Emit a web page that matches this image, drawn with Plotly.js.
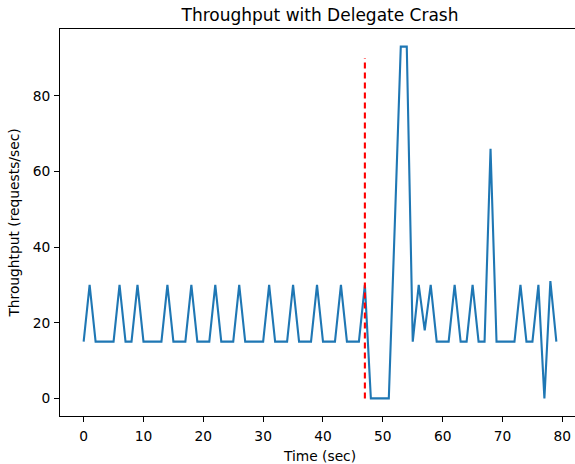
<!DOCTYPE html>
<html>
<head>
<meta charset="utf-8">
<script src="https://cdn.plot.ly/plotly-3.0.1.min.js"></script>
<style>
html, body { margin: 0; padding: 0; overflow: hidden; background: #fff; }
#chart { width: 580px; height: 464px; }
</style>
</head>
<body>
<div id="chart"></div>
<script>
const timeSec = [0,1,2,3,4,5,6,7,8,9,10,11,12,13,14,15,16,17,18,19,20,21,22,23,24,25,26,27,28,29,30,31,32,33,34,35,36,37,38,39,40,41,42,43,44,45,46,47,48,49,50,51,52,53,54,55,56,57,58,59,60,61,62,63,64,65,66,67,68,69,70,71,72,73,74,75,76,77,78,79];
const throughput = [15,30,15,15,15,15,30,15,15,30,15,15,15,15,30,15,15,15,30,15,15,15,30,15,15,15,30,15,15,15,15,30,15,15,15,30,15,15,15,30,15,15,15,30,15,15,15,30,0,0,0,0,46,93,93,15,30,18,30,15,15,15,30,15,15,30,15,15,66,15,15,15,15,30,15,15,30,0,31,15];
const crashX = [47, 47];
const crashY = [0, 90];
const xTicks = [0,10,20,30,40,50,60,70,80];
const yTicks = [0,20,40,60,80];

const font = {family: 'DejaVu Sans, sans-serif', color: '#000'};

const traces = [
  {x: timeSec, y: throughput, type: 'scatter', mode: 'lines',
   line: {color: '#1f77b4', width: 2.1}, hoverinfo: 'skip'},
  {x: crashX, y: crashY, type: 'scatter', mode: 'lines',
   line: {color: '#ff0000', width: 2.1, dash: '6px,4px'}, hoverinfo: 'skip'}
];

const axisCommon = {
  showgrid: false, zeroline: false, showline: true, mirror: true,
  linecolor: '#000', linewidth: 1, ticks: 'outside', ticklen: 5, tickwidth: 1,
  tickcolor: '#000', tickfont: Object.assign({size: 13.8}, font)
};

const layout = {
  width: 580, height: 464,
  margin: {l: 60, r: 0, t: 29, b: 48},
  paper_bgcolor: '#fff', plot_bgcolor: '#fff',
  showlegend: false,
  font: font,
  title: {text: 'Throughput with Delegate Crash', x: 0.5, xref: 'paper',
          y: 1, yref: 'paper', yanchor: 'bottom', pad: {b: 8},
          font: Object.assign({size: 17}, font)},
  xaxis: Object.assign({}, axisCommon, {
    range: [-3.95, 82.95], tickvals: xTicks, ticktext: xTicks.map(String),
    ticklabelstandoff: 2,
    title: {text: 'Time (sec)', standoff: 8, font: Object.assign({size: 13.8}, font)}
  }),
  yaxis: Object.assign({}, axisCommon, {
    range: [-4.65, 97.65], tickvals: yTicks, ticktext: yTicks.map(String),
    ticklabelstandoff: 1,
    title: {text: 'Throughtput (requests/sec)', standoff: 9, font: Object.assign({size: 13.8}, font)}
  })
};

Plotly.newPlot('chart', traces, layout, {displayModeBar: false, staticPlot: true});
</script>
</body>
</html>
